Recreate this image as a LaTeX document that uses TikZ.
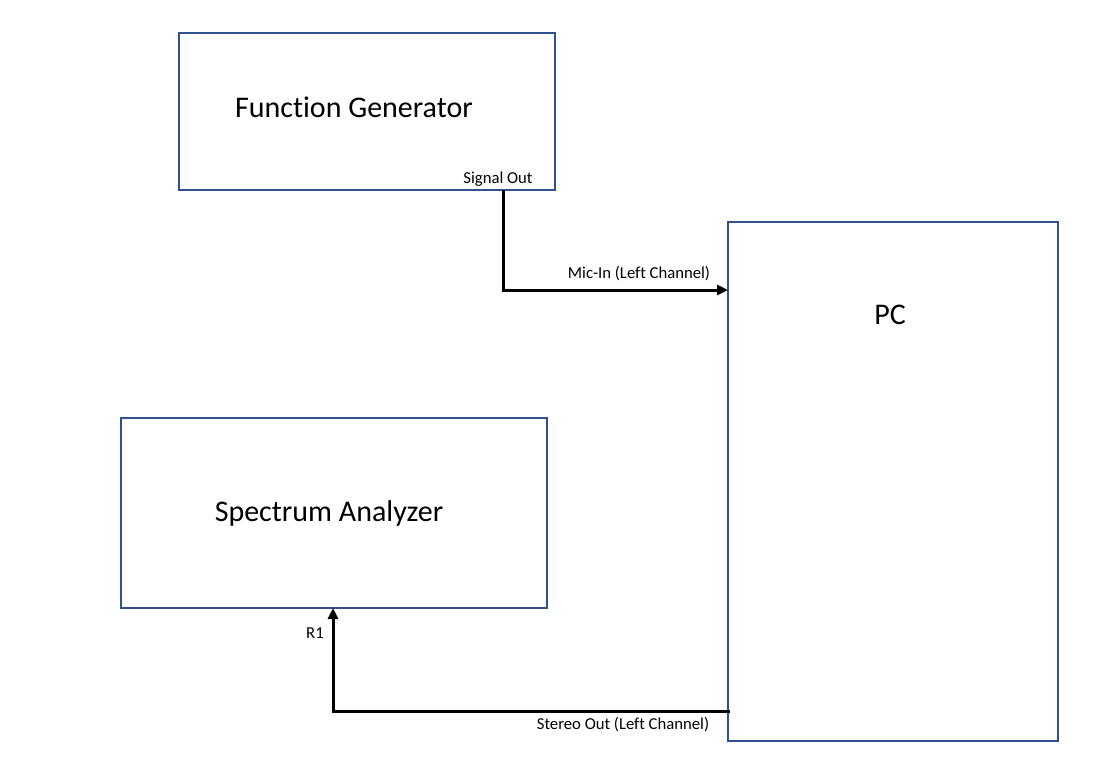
\documentclass[tikz,border=0pt]{standalone}
\usepackage{fontspec}
\setmainfont{Carlito}[RawFeature={-liga}]
\usetikzlibrary{arrows.meta}
\definecolor{boxblue}{HTML}{2F528F}
\tikzset{
  box/.style={draw=boxblue, line width=2pt, rectangle, inner sep=0pt},
  big/.style={font=\fontsize{30}{35}\selectfont, inner sep=0pt},
  small/.style={font=\fontsize{16.7}{19}\selectfont, inner sep=0pt},
  conn/.style={draw=black, line width=3pt, -{Triangle[length=11pt,width=10pt]}}
}
\begin{document}
\begin{tikzpicture}[x=1pt,y=-1pt]
\useasboundingbox[fill=white] (0,0) rectangle (1093,764);
\node[box, minimum width=376pt, minimum height=157pt] (fg) at (367,111.5) {};
\node[box, minimum width=330pt, minimum height=519pt] (pc) at (893,481.5) {};
\node[box, minimum width=426pt, minimum height=190pt] (sa) at (334,513) {};
\node[big] (fgt) at (354,107) {Function Generator};
\node[big] (pct) at (890,315) {PC};
\node[big] (sat) at (329,513) {Spectrum Analyzer};
\node[small] (so) at (498,179) {Signal Out};
\node[small] (mic) at (639,274) {Mic-In (Left Channel)};
\node[small] (r1) at (315,633) {R1};
\node[small] (st) at (623,725) {Stereo Out (Left Channel)};
\coordinate (sout) at (503,190);
\coordinate (micin) at (728,290);
\coordinate (stout) at (730,711);
\coordinate (rin) at (333,608);
\draw[conn] (sout) |- (micin);
\draw[conn] (stout) -| (rin);
\end{tikzpicture}
\end{document}
